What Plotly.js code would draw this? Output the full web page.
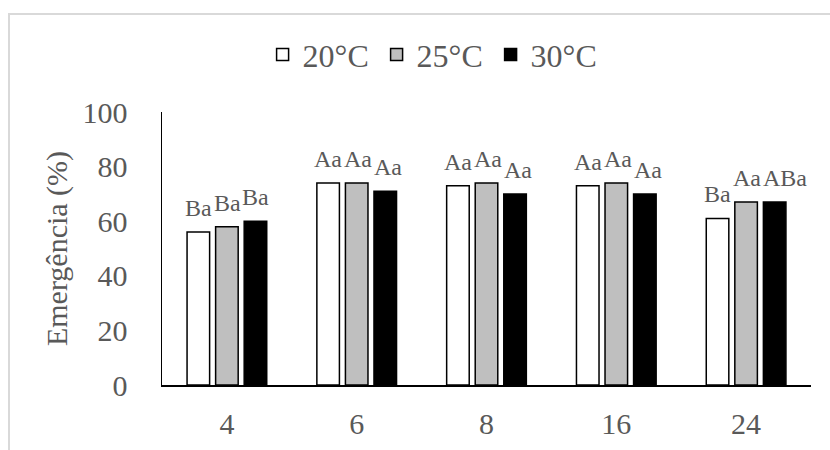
<!DOCTYPE html>
<html><head><meta charset="utf-8">
<script src="https://cdn.plot.ly/plotly-3.0.1.min.js"></script>
<style>
html,body{margin:0;padding:0;background:#fff;}
#wrap{position:relative;width:830px;height:450px;overflow:hidden;background:#fff;}
#frame{position:absolute;left:8px;top:13px;width:840px;height:460px;border-top:2px solid #D9D9D9;border-left:2px solid #D9D9D9;}
#chart{position:absolute;left:0;top:0;width:830px;height:450px;}
</style></head><body>
<div id="wrap"><div id="frame"></div><div id="chart"></div></div>
<script>
const categories = ['4', '6', '8', '16', '24'];
const seriesNames = ['20°C', '25°C', '30°C'];
const values20 = [56, 74, 73, 73, 61];
const values25 = [58, 74, 74, 74, 67];
const values30 = [60, 71, 70, 70, 67];
const labels20 = ['Ba', 'Aa', 'Aa', 'Aa', 'Ba'];
const labels25 = ['Ba', 'Aa', 'Aa', 'Aa', 'Aa'];
const labels30 = ['Ba', 'Aa', 'Aa', 'Aa', 'ABa'];
const yTickValues = [0, 20, 40, 60, 80, 100];
const yTitle = 'Emergência (%)';

const fills = ['#FFFFFF', '#BFBFBF', '#000000'];
const allValues = [values20, values25, values30];
const allLabels = [labels20, labels25, labels30];
const FONT = '"Times New Roman", "Liberation Serif", serif';
const TEXT = '#595959';
const LABEL_SIZE = 24;

const W = 830, H = 450;
const margin = {l: 162, r: 19, t: 112, b: 65, pad: 0};
const bargap = 0.34;
const yMax = 100;

const traces = seriesNames.map((name, i) => ({
  type: 'bar',
  name: name,
  x: categories,
  y: allValues[i],
  marker: {color: fills[i], line: {color: '#000000', width: 1.5}},
  hoverinfo: 'skip'
}));

// label placement: centred on each bar, nudged right when it would collide
// with the previous label of the same group (as the spreadsheet did)
const ctx = document.createElement('canvas').getContext('2d');
ctx.font = LABEL_SIZE + 'px "Liberation Serif", "Times New Roman", serif';
const plotW = W - margin.l - margin.r;
const plotH = H - margin.t - margin.b;
const slot = plotW / categories.length * (1 - bargap) / seriesNames.length;
const annotations = [];
categories.forEach((c, j) => {
  let prevRight = -Infinity, prevY = null;
  allLabels.forEach((labs, i) => {
    const t = labs[j];
    const w = ctx.measureText(t).width;
    let cx = (i - 1) * slot;
    const yPx = allValues[i][j] / yMax * plotH;
    if (prevY !== null && Math.abs(yPx - prevY) < LABEL_SIZE && cx - w / 2 < prevRight + 2) {
      cx = prevRight + 2 + w / 2;
    }
    prevRight = cx + w / 2;
    prevY = yPx;
    annotations.push({
      x: j, y: allValues[i][j], xref: 'x', yref: 'y',
      text: t, showarrow: false, yanchor: 'bottom', xanchor: 'center',
      xshift: cx, yshift: 9,
      font: {family: FONT, size: LABEL_SIZE, color: TEXT}
    });
  });
});

const layout = {
  width: W, height: H,
  margin: margin,
  paper_bgcolor: 'rgba(0,0,0,0)',
  plot_bgcolor: 'rgba(0,0,0,0)',
  barmode: 'group',
  bargap: bargap,
  bargroupgap: 0.21,
  font: {family: FONT, color: TEXT},
  showlegend: true,
  legend: {
    orientation: 'h', x: 0.155, xanchor: 'left', y: 1.21, yanchor: 'middle',
    font: {family: FONT, size: 32, color: TEXT},
    itemwidth: 30, entrywidth: 69, bgcolor: 'rgba(0,0,0,0)'
  },
  xaxis: {
    type: 'category', range: [-0.5, categories.length - 0.5],
    showline: true, linecolor: '#000000', linewidth: 1.5,
    ticks: '', showgrid: false, zeroline: false,
    tickfont: {family: FONT, size: 30, color: TEXT},
    ticklabelstandoff: 11,
    fixedrange: true
  },
  yaxis: {
    range: [0, yMax], tickvals: yTickValues,
    showline: true, linecolor: '#000000', linewidth: 1.5,
    ticks: '', showgrid: false, zeroline: false,
    tickfont: {family: FONT, size: 30, color: TEXT},
    ticklabelstandoff: 27,
    title: {text: yTitle, font: {family: FONT, size: 30, color: TEXT}, standoff: 6},
    fixedrange: true
  },
  annotations: annotations
};

Plotly.newPlot('chart', traces, layout, {displayModeBar: false, staticPlot: true});
</script>
</body></html>
